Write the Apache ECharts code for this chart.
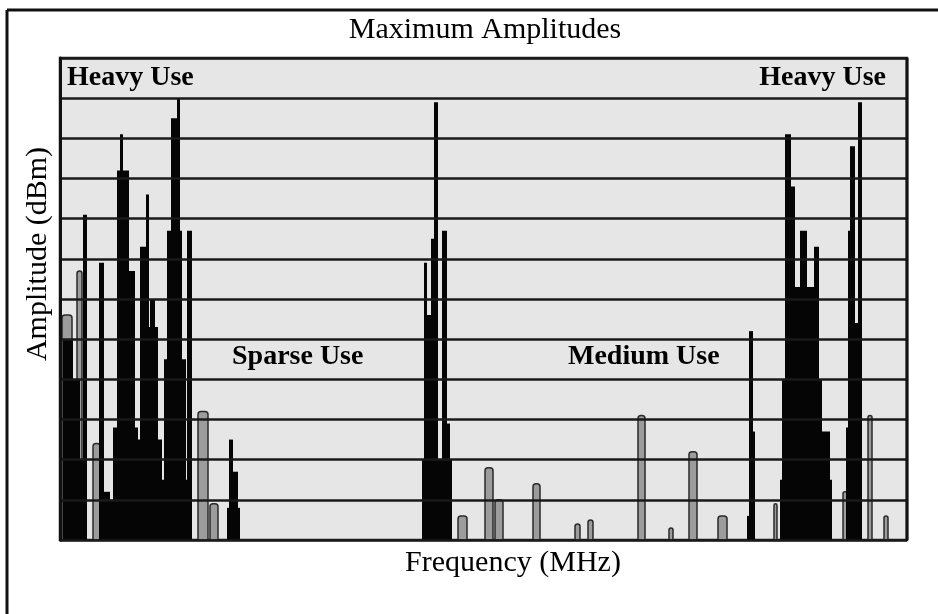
<!DOCTYPE html>
<html>
<head>
<meta charset="utf-8">
<script src="https://cdn.jsdelivr.net/npm/echarts@6/dist/echarts.min.js"></script>
<style>
html,body{margin:0;padding:0;background:#fff;}
#c{width:938px;height:614px;}
</style>
</head>
<body>
<div id="c"></div>
<script>
// Frequency bins (0..847) and amplitude in dBm (-120..0)
const freqMin = 0, freqMax = 847;
const ampMin = -120, ampMax = 0, ampStep = 10;

// Dense black spectrum blocks: [startFreq, endFreq, maxAmplitude dBm]
const blackBlocks = [
  // left heavy-use band
  [3,13,-70],[3,20,-80],[3,26,-100],[23,27,-39],[39,44,-51],[44,50,-108],
  [60,63,-19],[57,69,-28],[57,75,-53],[53,78,-92],[50,80,-110],
  [80,88,-47],[86,89,-34],[90,95,-60],[80,98,-67],[76,102,-95],
  [117,120,-10],[111,118,-15],[107,122,-43],[104,126,-75],[100,128,-105],
  [127,132,-43],
  [169,173,-95],[169,178,-103],[167,180,-112],
  // middle band
  [374,378,-11],[382,387,-43],[371,375,-45],[364,367,-51],[367,376,-64],
  [385,390,-91],[362,392,-100],
  // medium use spike
  [689,693,-68],[690,695,-93],[687,690,-114],
  // right heavy-use band
  [725,731,-19],[728,735,-32],[740,747,-43],[754,759,-47],[725,758,-57],
  [722,762,-80],[760,770,-93],[720,772,-105],
  [790,795,-22],[788,793,-43],[798,802,-11],[793,800,-66],[786,802,-92]
];

// Individual narrow carriers (grey outlined bars): [startFreq, endFreq, maxAmplitude dBm]
const greyBars = [
  [2,12,-64],[17,22,-53],[33,40,-96],[138,148,-88],[150,158,-111],
  [398,407,-114],[425,433,-102],[435,443,-110],[473,480,-106],
  [515,520,-116],[528,533,-115],[578,585,-89],[609,613,-117],
  [629,637,-98],[658,667,-114],[714,717,-111],[783,787,-108],
  [808,812,-89],[824,828,-114]
];

const titleText = 'Maximum Amplitudes';
const xName = 'Frequency (MHz)';
const yName = 'Amplitude (dBm)';
const bandLabels = ['Heavy Use','Sparse Use','Medium Use','Heavy Use'];

const chart = echarts.init(document.getElementById('c'), null, {renderer:'canvas'});

function makeRender(rounded){
  return function(params, api){
    const top = api.coord([api.value(0), api.value(2)]);
    const end = api.coord([api.value(1), ampMin]);
    return {
      type:'rect',
      shape:{x:top[0], y:top[1], width:end[0]-top[0], height:end[1]-top[1], r: rounded ? [3,3,0,0] : 0},
      style: api.style()
    };
  };
}

const serif = '"Liberation Serif","DejaVu Serif",serif';

chart.setOption({
  animation:false,
  backgroundColor:'#ffffff',
  grid:{left:60, top:58, width:847, height:482, show:true, backgroundColor:'#e6e6e6', borderColor:'#222', borderWidth:2.5, z:0},
  xAxis:{type:'value', min:freqMin, max:freqMax, axisLabel:{show:false}, axisTick:{show:false}, axisLine:{show:false}, splitLine:{show:false}},
  yAxis:{type:'value', min:ampMin, max:ampMax, interval:ampStep, z:10,
    axisLabel:{show:false}, axisTick:{show:false}, axisLine:{show:true, lineStyle:{color:'#111', width:3}},
    splitLine:{show:true, lineStyle:{color:'#1a1a1a', width:2.5}}},
  series:[
    {type:'custom', name:'carriers', renderItem: makeRender(true), data: greyBars, z:2,
      itemStyle:{color:'#9c9c9c', borderColor:'#2a2a2a', borderWidth:1.5}},
    {type:'custom', name:'spectrum', renderItem: makeRender(false), data: blackBlocks, z:3,
      itemStyle:{color:'#050505'}}
  ],
  graphic:[
    {type:'line', shape:{x1:7, y1:10, x2:938, y2:10}, style:{stroke:'#111', lineWidth:3}},
    {type:'line', shape:{x1:7, y1:10, x2:7, y2:614}, style:{stroke:'#111', lineWidth:3}},
    {type:'line', shape:{x1:907, y1:58, x2:907, y2:540}, style:{stroke:'#111', lineWidth:3}, z:20},
    {type:'text', x:485, y:30, style:{text:titleText, font:'30px '+serif, fill:'#000', textAlign:'center', textVerticalAlign:'middle'}},
    {type:'text', x:513, y:563, style:{text:xName, font:'30px '+serif, fill:'#000', textAlign:'center', textVerticalAlign:'middle'}},
    {type:'text', x:38, y:254, rotation:Math.PI/2, style:{text:yName, font:'30px '+serif, fill:'#000', textAlign:'center', textVerticalAlign:'middle'}},
    {type:'text', x:67, y:78, z:20, style:{text:bandLabels[0], font:'bold 28px '+serif, fill:'#000', textAlign:'left', textVerticalAlign:'middle'}},
    {type:'text', x:232, y:357, z:20, style:{text:bandLabels[1], font:'bold 28px '+serif, fill:'#000', textAlign:'left', textVerticalAlign:'middle'}},
    {type:'text', x:568, y:357, z:20, style:{text:bandLabels[2], font:'bold 28px '+serif, fill:'#000', textAlign:'left', textVerticalAlign:'middle'}},
    {type:'text', x:886, y:78, z:20, style:{text:bandLabels[3], font:'bold 28px '+serif, fill:'#000', textAlign:'right', textVerticalAlign:'middle'}}
  ]
});
</script>
</body>
</html>
